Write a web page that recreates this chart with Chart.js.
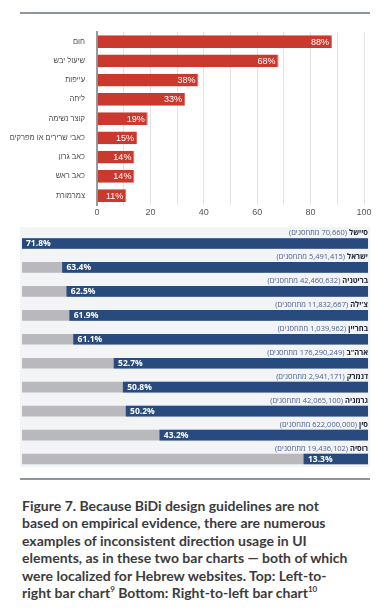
<!DOCTYPE html>
<html lang="he">
<head>
<meta charset="UTF-8">
<title>BiDi bar charts</title>
<script src="https://cdn.jsdelivr.net/npm/chart.js"></script>
<style>
    body {
        margin: 0;
        width: 384px;
        height: 614px;
        background: #fff;
        position: relative;
        overflow: hidden;
        font-family: Arial, "Liberation Sans", sans-serif;
    }
    .rule {
        position: absolute;
        left: 20px;
        width: 350px;
        height: 2px;
        background: #8e959c;
    }
    #topWrap {
        position: absolute;
        left: 0;
        top: 20px;
        width: 384px;
        height: 200px;
    }
    #panel {
        position: absolute;
        left: 20px;
        top: 227px;
        width: 350px;
        height: 240px;
        background: #f3f4f6;
    }
    #bottomWrap {
        position: absolute;
        left: 0;
        top: 222px;
        width: 384px;
        height: 250px;
    }
    #caption {
        position: absolute;
        left: 22px;
        top: 497px;
        width: 360px;
        font-family: Lato, "Open Sans", sans-serif;
        font-weight: 700;
        font-size: 14px;
        line-height: 17.4px;
        color: #3b3b3d;
        white-space: nowrap;
    }
    #caption sup {
        font-size: 8px;
        line-height: 0;
    }
</style>
</head>
<body>
<div class="rule" style="top:12px"></div>
<div id="topWrap"><canvas id="topChart"></canvas></div>
<div id="panel"></div>
<div id="bottomWrap"><canvas id="bottomChart"></canvas></div>
<div class="rule" style="top:478px"></div>
<div id="caption">Figure 7. Because BiDi design guidelines are not<br>based on empirical evidence, there are numerous<br>examples of inconsistent direction usage in UI<br>elements, as in these two bar charts — both of which<br>were localized for Hebrew websites. Top: Left-to-<br>right bar chart<sup>9</sup> Bottom: Right-to-left bar chart<sup>10</sup></div>

<script>
    // top chart: symptoms (left-to-right)
    const symptomLabels = ['חום', 'שיעול יבש', 'עייפות', 'ליחה', 'קוצר נשימה', 'כאבי שרירים או מפרקים', 'כאב גרון', 'כאב ראש', 'צמרמורת'];
    const symptomValues = [88, 68, 38, 33, 19, 15, 14, 14, 11];
    const topTicks = [0, 20, 40, 60, 80, 100];

    // bottom chart: vaccination by country (right-to-left)
    const countryNames = ['סיישל', 'ישראל', 'בריטניה', "צ'ילה", 'בחריין', 'ארה"ב', 'דנמרק', 'גרמניה', 'סין', 'רוסיה'];
    const vaccinatedCounts = ['70,660', '5,491,415', '42,460,632', '11,832,667', '1,039,962', '176,290,249', '2,941,171', '42,065,100', '622,000,000', '19,436,102'];
    const vaccinatedPercents = [71.8, 63.4, 62.5, 61.9, 61.1, 52.7, 50.8, 50.2, 43.2, 13.3];

    const scaleMax = Math.max(...vaccinatedPercents);
    const trackValues = vaccinatedPercents.map(() => scaleMax);

    // value labels inside the red bars
    const topLabels = {
        id: 'topLabels',
        afterDatasetsDraw(chart) {
            const ctx = chart.ctx;
            const meta = chart.getDatasetMeta(0);
            ctx.save();
            ctx.font = '9px Arial, "Liberation Sans", sans-serif';
            ctx.fillStyle = '#fff';
            ctx.textAlign = 'right';
            ctx.textBaseline = 'middle';
            meta.data.forEach((bar, i) => {
                ctx.fillText(symptomValues[i] + '%', bar.x - 3, bar.y + 0.5);
            });
            ctx.restore();
        }
    };

    new Chart(document.getElementById('topChart'), {
        type: 'bar',
        data: {
            labels: symptomLabels,
            datasets: [{
                data: symptomValues,
                backgroundColor: '#c9392e',
                borderColor: '#d9685e',
                borderWidth: { right: 1 },
                barPercentage: 0.66,
                categoryPercentage: 1
            }]
        },
        options: {
            indexAxis: 'y',
            responsive: true,
            maintainAspectRatio: false,
            animation: false,
            layout: { padding: { top: 12, right: 20, left: 0, bottom: 0 } },
            plugins: { legend: { display: false }, tooltip: { enabled: false } },
            scales: {
                x: {
                    min: 0,
                    max: 100,
                    ticks: {
                        stepSize: 10,
                        color: '#555',
                        font: { size: 9, family: 'Arial, "Liberation Sans", sans-serif' },
                        padding: 2,
                        maxRotation: 0,
                        callback: v => topTicks.includes(v) ? v : ''
                    },
                    grid: { color: '#e3e3e3', drawTicks: false },
                    border: { display: false }
                },
                y: {
                    ticks: {
                        color: '#4a4a4a',
                        font: { size: 7.5, family: 'Arial, "Liberation Sans", sans-serif' },
                        padding: 4
                    },
                    grid: { display: false },
                    border: { color: '#9a9a9a', width: 2 },
                    afterFit: axis => { axis.width = 97; }
                }
            }
        },
        plugins: [topLabels]
    });

    // country names + counts above each bar, and percent inside the blue bar
    const rowLabels = {
        id: 'rowLabels',
        afterDatasetsDraw(chart) {
            const ctx = chart.ctx;
            const meta = chart.getDatasetMeta(0);
            const right = chart.chartArea.right;
            ctx.save();
            meta.data.forEach((bar, i) => {
                const y = bar.y - bar.height / 2 - 3;
                ctx.direction = 'rtl';
                ctx.textBaseline = 'alphabetic';
                ctx.textAlign = 'right';
                ctx.font = 'bold 7.5px "Open Sans", "DejaVu Sans", sans-serif';
                ctx.fillStyle = '#1f2233';
                ctx.fillText(countryNames[i], right, y);
                const w = ctx.measureText(countryNames[i]).width;
                ctx.font = '7.5px "Open Sans", "DejaVu Sans", sans-serif';
                ctx.fillStyle = '#4b5f8c';
                ctx.fillText('(' + vaccinatedCounts[i] + ' מתחסנים)', right - w - 2, y);

                ctx.direction = 'ltr';
                ctx.textAlign = 'left';
                ctx.textBaseline = 'middle';
                ctx.font = 'bold 8.5px "Open Sans", "DejaVu Sans", sans-serif';
                ctx.fillStyle = '#fff';
                ctx.fillText(vaccinatedPercents[i].toFixed(1) + '%', bar.x + 4, bar.y + 0.5);
            });
            ctx.restore();
        }
    };

    new Chart(document.getElementById('bottomChart'), {
        type: 'bar',
        data: {
            labels: countryNames,
            datasets: [{
                data: vaccinatedPercents,
                backgroundColor: '#284a7e',
                barThickness: 10,
                grouped: false
            }, {
                data: trackValues,
                backgroundColor: '#b9b9bd',
                barThickness: 10,
                grouped: false
            }]
        },
        options: {
            indexAxis: 'y',
            responsive: true,
            maintainAspectRatio: false,
            animation: false,
            layout: { padding: { top: 9.5, bottom: 1, left: 22, right: 16 } },
            plugins: { legend: { display: false }, tooltip: { enabled: false } },
            scales: {
                x: { display: false, reverse: true, min: 0, max: scaleMax },
                y: { display: false }
            }
        },
        plugins: [rowLabels]
    });
</script>
</body>
</html>
